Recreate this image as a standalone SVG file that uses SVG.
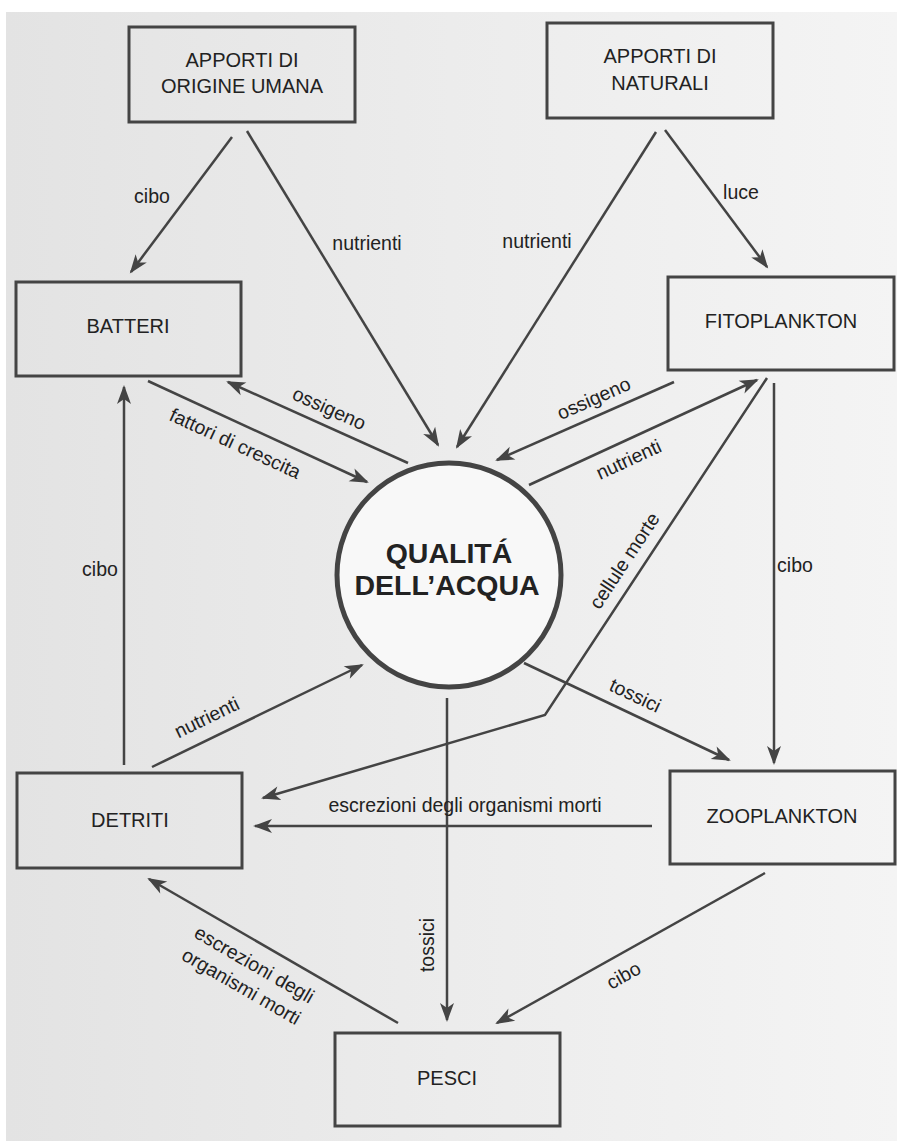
<svg xmlns="http://www.w3.org/2000/svg" width="897" height="1141" viewBox="0 0 897 1141">
  <defs>
    <linearGradient id="paper" x1="0" y1="0" x2="1" y2="0">
      <stop offset="0" stop-color="#e3e3e3"/>
      <stop offset="0.5" stop-color="#ececec"/>
      <stop offset="1" stop-color="#f4f4f4"/>
    </linearGradient>
    <marker id="arr" markerUnits="userSpaceOnUse" markerWidth="24" markerHeight="18" viewBox="-20 -9 24 18" refX="0" refY="0" orient="auto">
      <path d="M2,0 L-17,-7 L-12,0 L-17,7 Z" fill="#444"/>
    </marker>
    <style>
      .box{fill:none;stroke:#444;stroke-width:3}
      .nt{font-family:"Liberation Sans",Arial,sans-serif;font-size:20px;fill:#222;text-anchor:middle}
      .lb{font-family:"Liberation Sans",Arial,sans-serif;font-size:19.5px;fill:#222;text-anchor:middle}
      .ct{font-family:"Liberation Sans",Arial,sans-serif;font-size:28.5px;font-weight:bold;fill:#222;text-anchor:middle}
      .ln{fill:none;stroke:#444;stroke-width:2.5}
      .ar{fill:none;stroke:#444;stroke-width:2.5;marker-end:url(#arr)}
    </style>
  </defs>
  <rect x="0" y="0" width="897" height="1141" fill="#ffffff"/>
  <rect x="6" y="12" width="891" height="1129" fill="url(#paper)"/>

  <g id="connectors">
    <line class="ar" x1="232" y1="137" x2="131" y2="272"/>
    <line class="ar" x1="247" y1="131" x2="438" y2="445"/>
    <line class="ar" x1="656" y1="132" x2="457" y2="447"/>
    <line class="ar" x1="665" y1="130" x2="767" y2="267"/>
    <line class="ar" x1="408" y1="463" x2="228" y2="382"/>
    <line class="ar" x1="148" y1="381" x2="367" y2="482"/>
    <line class="ar" x1="124" y1="765" x2="124" y2="387"/>
    <line class="ar" x1="674" y1="382" x2="497" y2="460"/>
    <line class="ar" x1="529" y1="485" x2="757" y2="380"/>
    <polyline class="ar" points="767,378 545,715 263,798"/>
    <line class="ar" x1="774" y1="383" x2="774" y2="763"/>
    <line class="ar" x1="524" y1="663" x2="729" y2="760"/>
    <line class="ar" x1="152" y1="767" x2="362" y2="665"/>
    <line class="ar" x1="447" y1="698" x2="447" y2="1020"/>
    <line class="ar" x1="652" y1="826" x2="255" y2="826"/>
    <line class="ar" x1="398" y1="1023" x2="149" y2="879"/>
    <line class="ar" x1="765" y1="873" x2="497" y2="1023"/>

    <text class="lb" x="152" y="203">cibo</text>
    <text class="lb" x="367" y="250">nutrienti</text>
    <text class="lb" x="537" y="248">nutrienti</text>
    <text class="lb" x="741" y="199">luce</text>
    <text class="lb" x="100" y="576">cibo</text>
    <text class="lb" x="795" y="572">cibo</text>
    <text class="lb" x="465" y="812">escrezioni degli organismi morti</text>
    <text class="lb" transform="translate(329,409) rotate(24.2)" x="0" y="6">ossigeno</text>
    <text class="lb" transform="translate(235,444) rotate(24.8)" x="0" y="6">fattori di crescita</text>
    <text class="lb" transform="translate(594,399) rotate(-23.8)" x="0" y="6">ossigeno</text>
    <text class="lb" transform="translate(629,460) rotate(-24.7)" x="0" y="6">nutrienti</text>
    <text class="lb" transform="translate(625,561) rotate(-56.6)" x="0" y="6">cellule morte</text>
    <text class="lb" transform="translate(635,696) rotate(25.3)" x="0" y="6">tossici</text>
    <text class="lb" transform="translate(207,718) rotate(-25.9)" x="0" y="6">nutrienti</text>
    <text class="lb" transform="translate(428,945) rotate(-90)" x="0" y="6">tossici</text>
    <text class="lb" transform="translate(254,965) rotate(30)" x="0" y="6">escrezioni degli</text>
    <text class="lb" transform="translate(241,987) rotate(30)" x="0" y="6">organismi morti</text>
    <text class="lb" transform="translate(624,976) rotate(-29.2)" x="0" y="6">cibo</text>
  </g>

  <g id="apporti-umana">
    <rect class="box" x="129" y="27" width="226" height="95"/>
    <text class="nt" x="242" y="67">APPORTI DI</text>
    <text class="nt" x="242" y="93">ORIGINE UMANA</text>
  </g>
  <g id="apporti-naturali">
    <rect class="box" x="547" y="23" width="226" height="95"/>
    <text class="nt" x="660" y="63">APPORTI DI</text>
    <text class="nt" x="660" y="90">NATURALI</text>
  </g>
  <g id="batteri">
    <rect class="box" x="16" y="282" width="225" height="94"/>
    <text class="nt" x="128" y="333">BATTERI</text>
  </g>
  <g id="fitoplankton">
    <rect class="box" x="668" y="277" width="226" height="93"/>
    <text class="nt" x="781" y="328">FITOPLANKTON</text>
  </g>
  <g id="qualita">
    <circle cx="449" cy="575" r="112" fill="#f8f8f8" stroke="#444" stroke-width="5"/>
    <text class="ct" x="449" y="563">QUALITÁ</text>
    <text class="ct" x="447" y="595">DELL’ACQUA</text>
  </g>
  <g id="detriti">
    <rect class="box" x="17" y="773" width="225" height="95"/>
    <text class="nt" x="130" y="827">DETRITI</text>
  </g>
  <g id="zooplankton">
    <rect class="box" x="670" y="771" width="225" height="93"/>
    <text class="nt" x="782" y="823">ZOOPLANKTON</text>
  </g>
  <g id="pesci">
    <rect class="box" x="335" y="1033" width="225" height="93"/>
    <text class="nt" x="447" y="1085">PESCI</text>
  </g>
</svg>
